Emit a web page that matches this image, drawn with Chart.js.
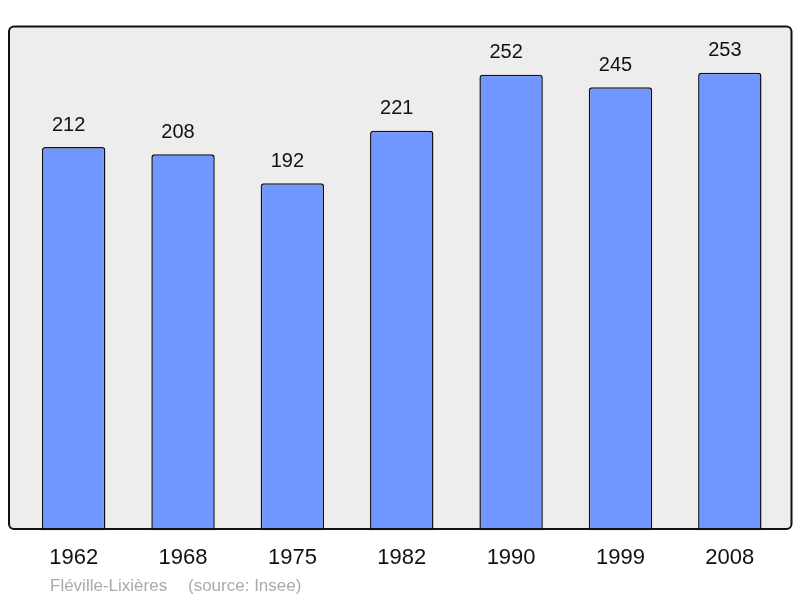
<!DOCTYPE html>
<html>
<head>
<meta charset="utf-8">
<script src="https://cdn.jsdelivr.net/npm/chart.js@4"></script>
<style>
    html, body { margin: 0; padding: 0; background: #fff; }
</style>
</head>
<body>
<canvas id="population" width="800" height="598"></canvas>
<script>
const years = ['1962', '1968', '1975', '1982', '1990', '1999', '2008'];
const population = [212, 208, 192, 221, 252, 245, 253];
const townName = 'Fléville-Lixières';
const sourceText = '(source: Insee)';

const fontFamily = '"Liberation Sans", Arial, sans-serif';

// grey frame behind the bars, black border on top
const framePlugin = {
    id: 'frame',
    beforeDatasetsDraw(chart) {
        const ctx = chart.ctx;
        const a = chart.chartArea;
        ctx.save();
        ctx.beginPath();
        ctx.roundRect(a.left - 10, a.top + 2.5, a.right - a.left + 17, a.bottom - a.top - 4, 5);
        ctx.fillStyle = '#ededed';
        ctx.fill();
        ctx.restore();
    },
    afterDatasetsDraw(chart) {
        const ctx = chart.ctx;
        const a = chart.chartArea;
        ctx.save();
        ctx.beginPath();
        ctx.roundRect(a.left - 10, a.top + 2.5, a.right - a.left + 17, a.bottom - a.top - 4, 5);
        ctx.lineWidth = 2;
        ctx.strokeStyle = '#111';
        ctx.stroke();

        // values above the bars (slightly left of centre, like the original)
        ctx.fillStyle = '#111';
        ctx.font = '20px ' + fontFamily;
        ctx.textAlign = 'center';
        ctx.textBaseline = 'middle';
        chart.getDatasetMeta(0).data.forEach((bar, i) => {
            ctx.fillText(population[i], bar.x - 5, bar.y - 22);
        });

        // footer
        ctx.fillStyle = '#aaaaaa';
        ctx.font = '17px ' + fontFamily;
        ctx.textAlign = 'left';
        ctx.textBaseline = 'alphabetic';
        ctx.fillText(townName, 50, 591);
        ctx.fillText(sourceText, 188, 591);
        ctx.restore();
    }
};

new Chart(document.getElementById('population').getContext('2d'), {
    type: 'bar',
    data: {
        labels: years,
        datasets: [{
            data: population,
            backgroundColor: 'rgb(112, 150, 255)',
            borderColor: '#111',
            borderWidth: 1.5,
            borderRadius: { topLeft: 3, topRight: 3 },
            borderSkipped: 'start',
            barPercentage: 0.58,
            categoryPercentage: 1
        }]
    },
    options: {
        responsive: false,
        devicePixelRatio: 1,
        animation: false,
        layout: {
            padding: { left: 19, right: 15.5, top: 24, bottom: 13 }
        },
        plugins: {
            legend: { display: false },
            tooltip: { enabled: false }
        },
        scales: {
            x: {
                grid: { display: false, drawTicks: false },
                border: { display: false },
                ticks: {
                    padding: 14,
                    color: '#111',
                    font: { size: 22, family: fontFamily }
                }
            },
            y: {
                display: false,
                min: 0,
                max: 280
            }
        }
    },
    plugins: [framePlugin]
});
</script>
</body>
</html>
